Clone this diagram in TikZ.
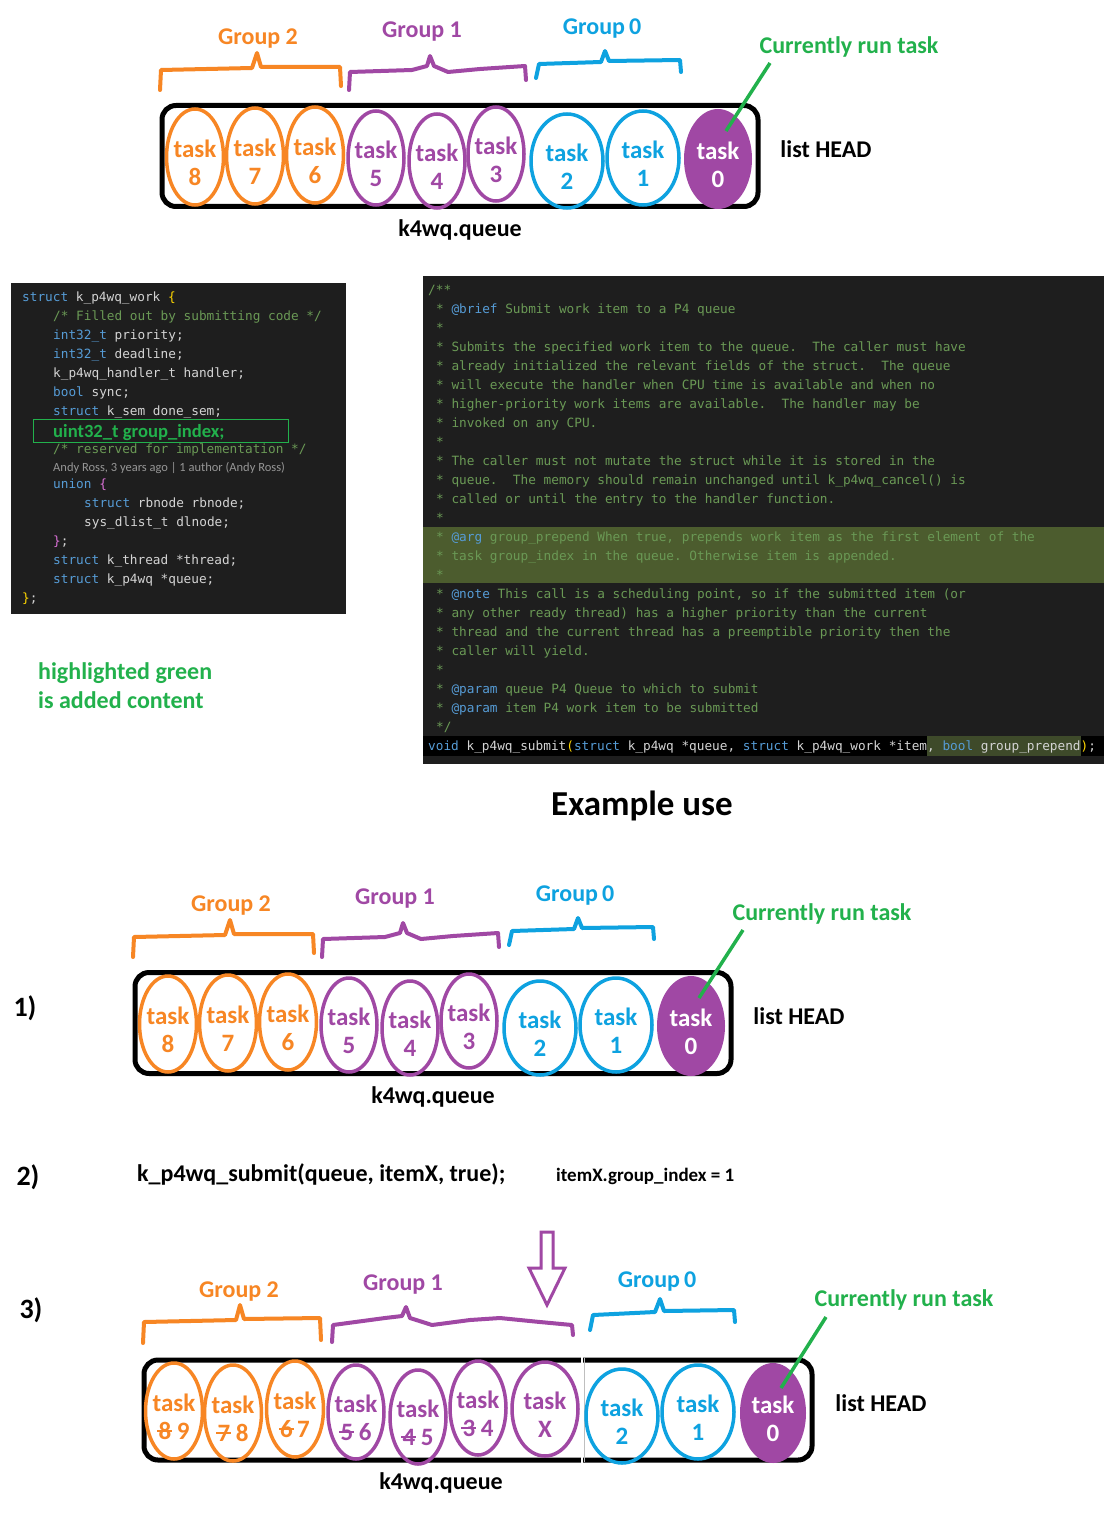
\documentclass[tikz,border=0pt]{standalone}
\usepackage{fontspec}
\setmainfont{Carlito}
\setmonofont{DejaVu Sans Mono}
\usetikzlibrary{shapes.geometric}

\definecolor{grporange}{RGB}{247,134,36}
\definecolor{grppurple}{RGB}{160,72,164}
\definecolor{grpblue}{RGB}{14,162,224}
\definecolor{rungreen}{RGB}{34,177,76}
\definecolor{codebg}{RGB}{30,30,30}
\definecolor{codetxt}{RGB}{212,212,212}
\definecolor{codekw}{RGB}{86,156,214}
\definecolor{codecmt}{RGB}{106,153,85}
\definecolor{codebrc}{RGB}{255,215,0}
\definecolor{codepink}{RGB}{218,112,214}
\definecolor{codehl}{RGB}{76,92,46}
\definecolor{codeline}{RGB}{44,48,38}
\definecolor{codesel}{RGB}{62,74,42}
\definecolor{blamegray}{RGB}{150,150,150}

\newcommand{\strk}[1]{\ooalign{#1\cr\hidewidth\rule[0.3em]{0.6em}{1.6pt}\hidewidth\cr}}

\tikzset{
  qbox/.style={draw, line width=5pt, rounded corners=14pt, inner sep=0pt},
  tasknode/.style={ellipse, line width=3.5pt, inner sep=-5pt, align=center,
    font=\bfseries\fontsize{25}{28}\selectfont,
    execute at begin node={\rule{0pt}{57pt}}},
  orangetask/.style={tasknode, draw=grporange, text=grporange, minimum width=57pt, minimum height=96pt},
  purpletask/.style={tasknode, draw=grppurple, text=grppurple, minimum width=56pt, minimum height=94pt},
  bluetask/.style={tasknode, draw=grpblue, text=grpblue, minimum width=72pt, minimum height=94pt},
  headtask/.style={tasknode, fill=grppurple, text=white, minimum width=68pt, minimum height=100pt},
  brace/.style={line width=4pt, line join=round, line cap=round},
  grplabel/.style={inner sep=0pt, font=\bfseries\fontsize{24}{28}\selectfont},
  blacklabel/.style={inner sep=0pt, font=\bfseries\fontsize{24}{28}\selectfont},
  runline/.style={rungreen, line width=3.5pt},
  codeline/.style={anchor=base west, inner sep=0pt, text=codetxt,
    font=\ttfamily\frenchspacing\fontsize{12.75}{15}\selectfont},
  steplabel/.style={inner sep=0pt, font=\bfseries\fontsize{28}{32}\selectfont}
}

\begin{document}
\begin{tikzpicture}[x=1pt, y=-1pt]
\useasboundingbox (0,0) rectangle (1106,1530);
\fill[white] (0,0) rectangle (1106,1530);

% queue before
\node[qbox, minimum width=596pt, minimum height=101pt] (boxA) at (460,156) {};
\node[orangetask] (tA8) at (195,157) {task\\8};
\node[orangetask] (tA7) at (255,156) {task\\7};
\node[orangetask] (tA6) at (315,155) {task\\6};
\node[purpletask] (tA5) at (376,158) {task\\5};
\node[purpletask] (tA4) at (437,161) {task\\4};
\node[purpletask] (tA3) at (496,154) {task\\3};
\node[bluetask] (tA2) at (567,161) {task\\2};
\node[bluetask] (tA1) at (643,158) {task\\1};
\node[headtask] (tA0) at (718,159) {task\\0};
\draw[brace, grporange] (160,90) -- (161,70) -- (252,68) -- (257,53) -- (261,67) -- (340,67) -- (341,86);
\draw[brace, grppurple] (349,90) -- (350,72) -- (412,70) -- (427,66) -- (430,56) -- (434,66) -- (448,72) -- (480,69) -- (525,66) -- (526,80);
\draw[brace, grpblue] (536,78) -- (539,64) -- (601,62) -- (605,51) -- (609,61) -- (680,60) -- (681,72);
\node[grplabel, text=grporange] (gA2) at (258,39) {Group 2};
\node[grplabel, text=grppurple] (gA1) at (422,32) {Group 1};
\node[grplabel, text=grpblue] (gA0) at (602,29) {Group\,0};
\node[grplabel, text=rungreen] (curA) at (849,47) {Currently run task};
\node[grplabel] (headA) at (826,149) {list HEAD};
\node[blacklabel] (queueA) at (460,230) {k4wq.queue};
\coordinate (runA) at (770,63);
\coordinate (pinA) at (726,131);
\draw[runline] (runA) -- (pinA);

% struct
\fill[codebg] (11,283) rectangle (346,614);
\node[codeline] (cl1) at (22,301) {\textcolor{codekw}{struct} k\_p4wq\_work \textcolor{codebrc}{\{}};
\node[codeline] (cl2) at (53,320) {\textcolor{codecmt}{/* Filled out by submitting code */}};
\node[codeline] (cl3) at (53,339) {\textcolor{codekw}{int32\_t} priority;};
\node[codeline] (cl4) at (53,358) {\textcolor{codekw}{int32\_t} deadline;};
\node[codeline] (cl5) at (53,377) {k\_p4wq\_handler\_t handler;};
\node[codeline] (cl6) at (53,396) {\textcolor{codekw}{bool} sync;};
\node[codeline] (cl7) at (53,415) {\textcolor{codekw}{struct} k\_sem done\_sem;};
\draw[rungreen, line width=1pt] (33,419) rectangle (288,442);
\node[anchor=base west, inner sep=0pt, text=rungreen, font=\bfseries\fontsize{18.6}{22}\selectfont] (cl8) at (53,437) {uint32\_t group\_index;};
\node[codeline] (cl9) at (53,453) {\textcolor{codecmt}{/* reserved for implementation */}};
\node[anchor=base west, inner sep=0pt, text=blamegray, font=\fontsize{12.5}{15}\selectfont] (cl10) at (53,471) {Andy Ross, 3 years ago | 1 author (Andy Ross)};
\node[codeline] (cl11) at (53,488) {\textcolor{codekw}{union} \textcolor{codepink}{\{}};
\node[codeline] (cl12) at (84,507) {\textcolor{codekw}{struct} rbnode rbnode;};
\node[codeline] (cl13) at (84,526) {sys\_dlist\_t dlnode;};
\node[codeline] (cl14) at (53,545) {\textcolor{codepink}{\}};};
\node[codeline] (cl15) at (53,564) {\textcolor{codekw}{struct} k\_thread *thread;};
\node[codeline] (cl16) at (53,583) {\textcolor{codekw}{struct} k\_p4wq *queue;};
\node[codeline] (cl17) at (22,602) {\textcolor{codebrc}{\}};};

% doc comment
\fill[codebg] (423,276) rectangle (1104,764);
\fill[codehl] (423,527) rectangle (1104,583);
\fill[codeline] (423,736) rectangle (1104,756);
\fill[codesel] (927,736) rectangle (1081,756);
\node[codeline, text=codecmt] (cr0) at (428,294) {/**};
\node[codeline, text=codecmt] (cr1) at (436,313) {* \textcolor{codekw}{@brief} Submit work item to a P4 queue};
\node[codeline, text=codecmt] (cr2) at (436,332) {*};
\node[codeline, text=codecmt] (cr3) at (436,351) {* Submits the specified work item to the queue.\ \ The caller must have};
\node[codeline, text=codecmt] (cr4) at (436,370) {* already initialized the relevant fields of the struct.\ \ The queue};
\node[codeline, text=codecmt] (cr5) at (436,389) {* will execute the handler when CPU time is available and when no};
\node[codeline, text=codecmt] (cr6) at (436,408) {* higher-priority work items are available.\ \ The handler may be};
\node[codeline, text=codecmt] (cr7) at (436,427) {* invoked on any CPU.};
\node[codeline, text=codecmt] (cr8) at (436,446) {*};
\node[codeline, text=codecmt] (cr9) at (436,465) {* The caller must not mutate the struct while it is stored in the};
\node[codeline, text=codecmt] (cr10) at (436,484) {* queue.\ \ The memory should remain unchanged until k\_p4wq\_cancel() is};
\node[codeline, text=codecmt] (cr11) at (436,503) {* called or until the entry to the handler function.};
\node[codeline, text=codecmt] (cr12) at (436,522) {*};
\node[codeline, text=codecmt] (cr13) at (436,541) {* \textcolor{codekw}{@arg} group\_prepend When true, prepends work item as the first element of the};
\node[codeline, text=codecmt] (cr14) at (436,560) {* task group\_index in the queue. Otherwise item is appended.};
\node[codeline, text=codecmt] (cr15) at (436,579) {*};
\node[codeline, text=codecmt] (cr16) at (436,598) {* \textcolor{codekw}{@note} This call is a scheduling point, so if the submitted item (or};
\node[codeline, text=codecmt] (cr17) at (436,617) {* any other ready thread) has a higher priority than the current};
\node[codeline, text=codecmt] (cr18) at (436,636) {* thread and the current thread has a preemptible priority then the};
\node[codeline, text=codecmt] (cr19) at (436,655) {* caller will yield.};
\node[codeline, text=codecmt] (cr20) at (436,674) {*};
\node[codeline, text=codecmt] (cr21) at (436,693) {* \textcolor{codekw}{@param} queue P4 Queue to which to submit};
\node[codeline, text=codecmt] (cr22) at (436,712) {* \textcolor{codekw}{@param} item P4 work item to be submitted};
\node[codeline, text=codecmt] (cr23) at (436,731) {*/};
\node[codeline] (cr24) at (428,750) {\textcolor{codekw}{void} k\_p4wq\_submit\textcolor{codebrc}{(}\textcolor{codekw}{struct} k\_p4wq *queue, \textcolor{codekw}{struct} k\_p4wq\_work *item, \textcolor{codekw}{bool} group\_prepend\textcolor{codebrc}{)};};

\node[anchor=north west, inner sep=0pt, align=left, text=rungreen, font=\bfseries\fontsize{24}{29}\selectfont] (note) at (38,662) {highlighted green\\is added content};
\node[inner sep=0pt, font=\bfseries\fontsize{35}{40}\selectfont] (example) at (642,806) {Example use};

% 1)
\node[steplabel] (s1) at (25,1008) {1)};
\begin{scope}[shift={(-27,867)}]
\node[qbox, minimum width=596pt, minimum height=101pt] (boxB) at (460,156) {};
\node[orangetask] (tB8) at (195,157) {task\\8};
\node[orangetask] (tB7) at (255,156) {task\\7};
\node[orangetask] (tB6) at (315,155) {task\\6};
\node[purpletask] (tB5) at (376,158) {task\\5};
\node[purpletask] (tB4) at (437,161) {task\\4};
\node[purpletask] (tB3) at (496,154) {task\\3};
\node[bluetask] (tB2) at (567,161) {task\\2};
\node[bluetask] (tB1) at (643,158) {task\\1};
\node[headtask] (tB0) at (718,159) {task\\0};
\draw[brace, grporange] (160,90) -- (161,70) -- (252,68) -- (257,53) -- (261,67) -- (340,67) -- (341,86);
\draw[brace, grppurple] (349,90) -- (350,72) -- (412,70) -- (427,66) -- (430,56) -- (434,66) -- (448,72) -- (480,69) -- (525,66) -- (526,80);
\draw[brace, grpblue] (536,78) -- (539,64) -- (601,62) -- (605,51) -- (609,61) -- (680,60) -- (681,72);
\node[grplabel, text=grporange] (gB2) at (258,39) {Group 2};
\node[grplabel, text=grppurple] (gB1) at (422,32) {Group 1};
\node[grplabel, text=grpblue] (gB0) at (602,29) {Group\,0};
\node[grplabel, text=rungreen] (curB) at (849,47) {Currently run task};
\node[grplabel] (headB) at (826,149) {list HEAD};
\node[blacklabel] (queueB) at (460,230) {k4wq.queue};
\coordinate (runB) at (770,63);
\coordinate (pinB) at (726,131);
\draw[runline] (runB) -- (pinB);
\end{scope}

% 2)
\node[steplabel] (s2) at (28,1177) {2)};
\node[anchor=west, inner sep=0pt, font=\bfseries\fontsize{24}{28}\selectfont] (call) at (137,1174) {k\_p4wq\_submit(queue, itemX, true);};
\node[anchor=west, inner sep=0pt, font=\bfseries\fontsize{19}{22}\selectfont] (gidx) at (556,1176) {itemX.group\_index = 1};
\draw[grppurple, line width=3pt] (541,1232) -- (553,1232) -- (553,1268) -- (565,1268) -- (547,1305) -- (529,1268) -- (541,1268) -- cycle;

% 3)
\node[steplabel] (s3) at (31,1310) {3)};
\node[qbox, minimum width=668pt, minimum height=100pt] (boxC) at (478,1410) {};
\draw[white, line width=2pt] (582,1355) -- (582,1465);
\draw[black!25, line width=1pt] (584,1358) -- (584,1462);
\node[orangetask] (tC8) at (174,1411) {task\\\strk{8} 9};
\node[orangetask] (tC7) at (233,1413) {task\\\strk{7} 8};
\node[orangetask] (tC6) at (295,1409) {task\\\strk{6}\,7};
\node[purpletask] (tC5) at (356,1412) {task\\\strk{5} 6};
\node[purpletask] (tC4) at (418,1417) {task\\\strk{4} 5};
\node[purpletask] (tC3) at (478,1408) {task\\\strk{3} 4};
\node[purpletask, minimum width=66pt] (tCX) at (545,1409) {task\\X};
\node[bluetask] (tC2) at (622,1416) {task\\2};
\node[bluetask] (tC1) at (698,1412) {task\\1};
\node[headtask, minimum width=66pt] (tC0) at (773,1413) {task\\0};
\draw[brace, grporange] (143,1343) -- (144,1322) -- (236,1320) -- (240,1305) -- (244,1319) -- (320,1318) -- (321,1340);
\draw[brace, grppurple] (332,1342) -- (333,1325) -- (385,1318) -- (402,1316) -- (406,1307) -- (410,1318) -- (432,1325) -- (470,1320) -- (500,1318) -- (540,1322) -- (572,1325) -- (573,1335);
\draw[brace, grpblue] (590,1330) -- (593,1315) -- (655,1312) -- (660,1299) -- (664,1311) -- (734,1310) -- (735,1322);
\node[grplabel, text=grporange] (gC2) at (239,1292) {Group 2};
\node[grplabel, text=grppurple] (gC1) at (403,1285) {Group 1};
\node[grplabel, text=grpblue] (gC0) at (657,1282) {Group\,0};
\node[grplabel, text=rungreen] (curC) at (904,1300) {Currently run task};
\node[grplabel] (headC) at (881,1403) {list HEAD};
\node[blacklabel] (queueC) at (441,1483) {k4wq.queue};
\coordinate (runC) at (826,1317);
\coordinate (pinC) at (781,1388);
\draw[runline] (runC) -- (pinC);
\end{tikzpicture}
\end{document}
